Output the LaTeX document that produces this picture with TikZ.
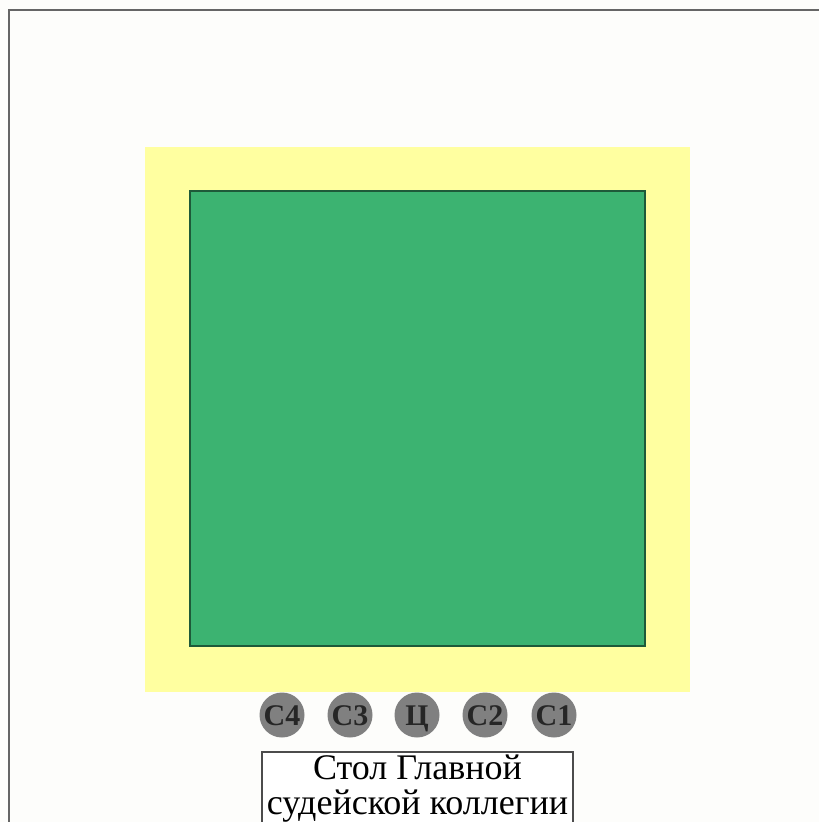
\documentclass[tikz,border=0pt]{standalone}
\usepackage{fontspec}
\setmainfont{Liberation Serif}
\definecolor{bgc}{HTML}{FDFDFB}
\definecolor{yel}{HTML}{FFFFA0}
\definecolor{grn}{HTML}{3CB371}
\definecolor{seat}{HTML}{808080}
\begin{document}
\begin{tikzpicture}[x=1pt,y=-1pt,
  seatc/.style={circle,fill=seat,minimum size=45pt,inner sep=0pt,font=\fontsize{30}{32}\selectfont\bfseries,text=black!85,text height=20pt,text depth=0pt},
  tablebox/.style={draw=black!70,line width=1.2pt,fill=white}]
\useasboundingbox (0,0) rectangle (819,822);
\clip (0,0) rectangle (819,822);
\fill[bgc] (0,0) rectangle (819,822);
\draw[black!60,line width=1.5pt] (9,830) -- (9,10) -- (830,10);
\fill[yel] (145,147) rectangle (690,692);
\draw[grn!50!black,fill=grn,line width=1.2pt] (190,191) rectangle (645,646);
\node[seatc] (c4) at (282,715) {С4};
\node[seatc] (c3) at (350,715) {С3};
\node[seatc] (cc) at (417,715) {Ц};
\node[seatc] (c2) at (485,715) {С2};
\node[seatc] (c1) at (554,715) {С1};
\draw[tablebox] (262,752) rectangle (573,840);
\node[font=\fontsize{36}{35}\selectfont,align=center,inner sep=0pt] (tbl) at (417.5,789) {Стол Главной\\судейской коллегии};
\end{tikzpicture}
\end{document}
